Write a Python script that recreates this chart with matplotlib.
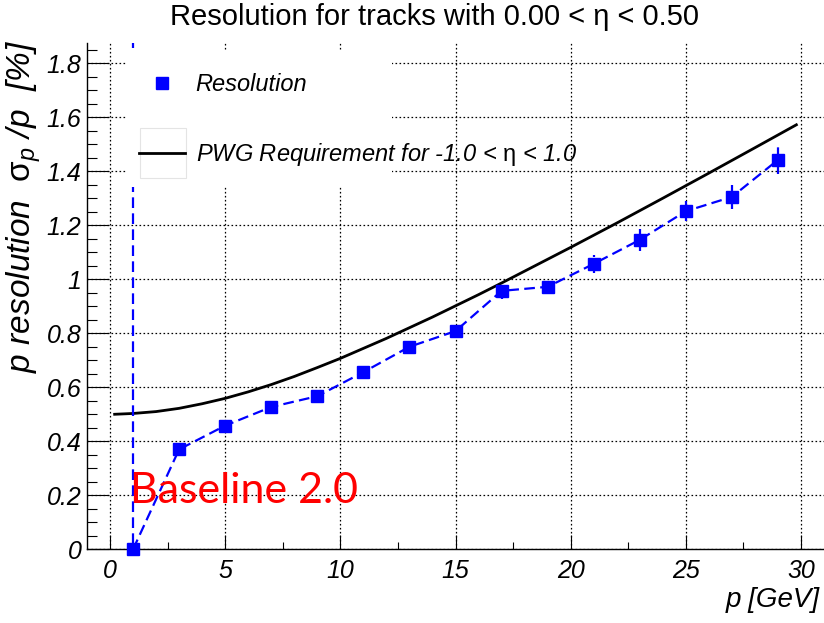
import numpy as np
import matplotlib
matplotlib.use('Agg')
import matplotlib.pyplot as plt
from matplotlib.lines import Line2D
from matplotlib.patches import Rectangle
from matplotlib.ticker import MultipleLocator, FuncFormatter

# data
p_bins = [1, 3, 5, 7, 9, 11, 13, 15, 17, 19, 21, 23, 25, 27, 29]
resolution = [0.0, 0.37, 0.458, 0.527, 0.567, 0.656, 0.75, 0.808, 0.957, 0.972, 1.057, 1.146, 1.252, 1.305, 1.442]
res_err = [1.9, 0.012, 0.012, 0.012, 0.014, 0.014, 0.016, 0.018, 0.03, 0.028, 0.033, 0.04, 0.038, 0.045, 0.052]

# PWG requirement curve
req_p = [0.2, 1, 2, 3, 4, 5, 6, 7, 8, 9, 10, 12, 14, 16, 17, 18, 20, 22, 24, 26, 28, 29.8]
req_val = [0.50, 0.503, 0.51, 0.522, 0.539, 0.559, 0.583, 0.61, 0.64, 0.673, 0.707, 0.781, 0.86, 0.943,
           0.986, 1.03, 1.118, 1.208, 1.30, 1.393, 1.487, 1.572]

title = 'Resolution for tracks with 0.00 < \u03b7 < 0.50'
leg_res = 'Resolution'
leg_req = r'PWG Requirement for -1.0 < $\mathrm{\eta}$ < 1.0'

plt.rcParams['font.family'] = ['Liberation Sans', 'DejaVu Sans']
plt.rcParams['mathtext.fontset'] = 'custom'
plt.rcParams['mathtext.rm'] = 'Liberation Sans'
plt.rcParams['mathtext.it'] = 'Liberation Sans:italic'

W, H = 824, 623
fig = plt.figure(figsize=(W / 100, H / 100), dpi=100)
ax = fig.add_axes([87 / W, 1 - 549.3 / H, 737 / W, 506.6 / H])

ax.set_xlim(-1, 31)
ax.set_ylim(0, 1.876)
for s in ['top', 'right']:
    ax.spines[s].set_visible(False)
for s in ['left', 'bottom']:
    ax.spines[s].set_linewidth(1.0)

ax.xaxis.set_major_locator(MultipleLocator(5))
ax.xaxis.set_minor_locator(MultipleLocator(2.5))
ax.yaxis.set_major_locator(MultipleLocator(0.2))
ax.yaxis.set_minor_locator(MultipleLocator(0.05))
ax.yaxis.set_major_formatter(FuncFormatter(lambda v, pos: f'{round(v, 3):g}'))
ax.xaxis.set_major_formatter(FuncFormatter(lambda v, pos: f'{round(v, 3):g}'))

ax.tick_params(axis='both', which='both', direction='in', width=0.8)
ax.tick_params(axis='y', which='major', length=16, pad=4)
ax.tick_params(axis='y', which='minor', length=7)
ax.tick_params(axis='x', which='major', length=10, pad=7)
ax.tick_params(axis='x', which='minor', length=5)
for lab in ax.get_xticklabels() + ax.get_yticklabels():
    lab.set_fontsize(18)
    lab.set_fontstyle('italic')

ax.set_axisbelow(True)
ax.grid(True, which='major', color='black', linewidth=0.9, linestyle=(0, (1.3, 1.9)))

# requirement curve
ax.plot(req_p, req_val, color='black', lw=2.0, zorder=2)

# resolution points
line, caps, bars = ax.errorbar(p_bins, resolution, yerr=res_err, fmt='s', color='#0000ff',
                               ms=9, mec='#0000ff', ls=(0, (4.8, 2.4)), lw=1.6, elinewidth=1.6,
                               capsize=0, zorder=2.5)
line.set_clip_on(False)
for b in bars:
    b.set_linestyle((0, (4.8, 2.4)))

# legend background (ROOT style: white box, text spills over)
ax.add_patch(Rectangle((127 / W, 1 - 187 / H), (392 - 127) / W, (187 - 50) / H,
                       transform=fig.transFigure, facecolor='white', edgecolor='none', zorder=3))
ax.add_patch(Rectangle((140 / W, 1 - 178 / H), 46 / W, 50 / H,
                       transform=fig.transFigure, facecolor='white', edgecolor='#e4e4e4',
                       lw=0.8, zorder=4))

handles = [Line2D([], [], marker='s', color='#0000ff', ls='none', ms=9),
           Line2D([], [], color='black', lw=2.0)]
leg = ax.legend(handles, [leg_res, leg_req], loc='upper left',
                bbox_to_anchor=(139 / W, 1 - 73 / H), bbox_transform=fig.transFigure,
                frameon=False, handlelength=1.95, handletextpad=0.45, labelspacing=1.9,
                borderaxespad=0, borderpad=0, prop={'size': 17, 'style': 'italic'})
leg.set_zorder(5)

fig.text(434 / W, 1 - 3 / H, title, ha='center', va='top', fontsize=21)
fig.text(24 / W, 1 - 40 / H, r'p resolution  $\mathrm{\sigma}_{p}$ /p  [%]', rotation=90,
         ha='center', va='top', fontsize=24, fontstyle='italic')
fig.text(820 / W, 1 - 600 / H, 'p [GeV]', ha='right', va='center', fontsize=20, fontstyle='italic')
fig.text(130 / W, 1 - 503 / H, 'Baseline 2.0', ha='left', va='baseline', fontsize=31,
         color='#ff0000', family=['Lato', 'DejaVu Sans'])

fig.savefig('out.png', dpi=100)
